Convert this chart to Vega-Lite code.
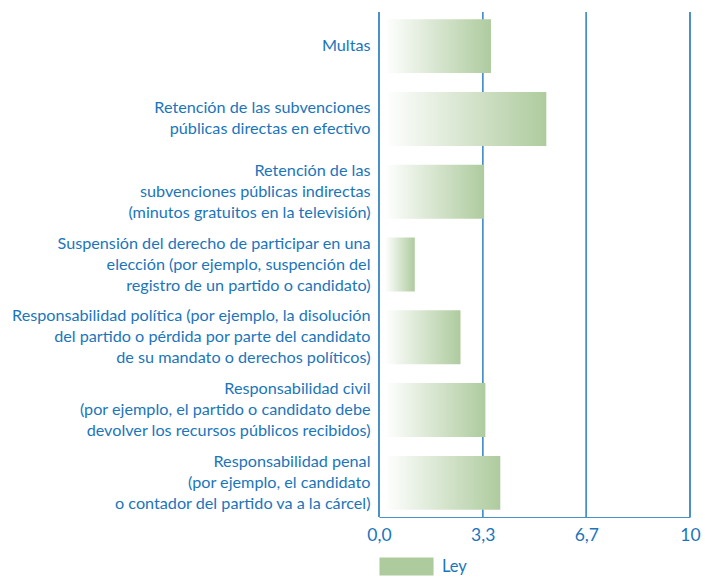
{
  "$schema": "https://vega.github.io/schema/vega-lite/v6.json",
  "width": 311,
  "height": 505,
  "padding": {"left": 11, "right": 14, "top": 11, "bottom": 1},
  "background": "white",
  "config": {"view": {"stroke": null}, "font": "Lato"},
  "data": {"values": [
    {"cat": "Multas", "valor": 3.6},
    {"cat": "Retención de las subvenciones|públicas directas en efectivo", "valor": 5.38},
    {"cat": "Retención de las|subvenciones públicas indirectas|(minutos gratuitos en la televisión)", "valor": 3.38},
    {"cat": "Suspensión del derecho de participar en una|elección (por ejemplo, suspención del|registro de un partido o candidato)", "valor": 1.15},
    {"cat": "Responsabilidad política (por ejemplo, la disolución|del partido o pérdida por parte del candidato|de su mandato o derechos políticos)", "valor": 2.62},
    {"cat": "Responsabilidad civil|(por ejemplo, el partido o candidato debe|devolver los recursos públicos recibidos)", "valor": 3.42},
    {"cat": "Responsabilidad penal|(por ejemplo, el candidato|o contador del partido va a la cárcel)", "valor": 3.9}
  ]},
  "encoding": {
    "y": {
      "field": "cat", "type": "nominal", "sort": null, "title": null,
      "scale": {"paddingInner": 0.26, "paddingOuter": 0.1},
      "axis": {
        "labelExpr": "split(datum.label, '|')",
        "labelColor": "#1b75bb", "labelFontSize": 16.2, "labelLineHeight": 21,
        "labelPadding": 9, "ticks": false, "domain": false, "labelLimit": 400,
        "labelBaseline": "middle", "grid": false,
        "labelOffset": {
          "condition": [
            {"test": "length(split(datum.label, '|')) == 3", "value": -21},
            {"test": "length(split(datum.label, '|')) == 2", "value": -10.5}
          ],
          "value": 0
        }
      }
    }
  },
  "layer": [
    {
      "mark": {"type": "rule", "color": "#4a90c8", "strokeWidth": 1},
      "encoding": {"x": {"datum": 0}, "y": null}
    },
    {
      "mark": {"type": "rule", "color": "#4a90c8", "strokeWidth": 1},
      "encoding": {"x": {"datum": 3.3333}, "y": null}
    },
    {
      "mark": {"type": "rule", "color": "#4a90c8", "strokeWidth": 1},
      "encoding": {"x": {"datum": 6.6667}, "y": null}
    },
    {
      "mark": {"type": "rule", "color": "#4a90c8", "strokeWidth": 1},
      "encoding": {"x": {"datum": 10}, "y": null}
    },
    {
      "mark": {
        "type": "bar",
        "fill": {"gradient": "linear", "x1": 0, "y1": 0, "x2": 1, "y2": 0,
          "stops": [{"offset": 0, "color": "#ffffff"}, {"offset": 1, "color": "#aecb9e"}]}
      },
      "encoding": {
        "x": {
          "field": "valor", "type": "quantitative", "title": null,
          "scale": {"domain": [0, 10], "nice": false},
          "axis": {
            "values": [0, 3.3333, 6.6667, 10],
            "labelExpr": "datum.value == 10 ? '10' : replace(format(datum.value, '.1f'), '.', ',')",
            "labelColor": "#1b75bb", "labelFontSize": 17.5, "labelPadding": 9,
            "ticks": false, "domainColor": "#4a90c8", "domainWidth": 1,
            "grid": false, "labelFlush": false
          }
        },
        "x2": {"datum": 0.2}
      }
    },
    {
      "mark": {"type": "point", "opacity": 0, "filled": true},
      "encoding": {
        "color": {
          "datum": "Ley", "type": "nominal",
          "scale": {"range": ["#aecb9e"]},
          "legend": {
            "title": null, "orient": "bottom", "direction": "horizontal",
            "symbolType": "M-1,-0.5H2V0.5H-1Z", "symbolSize": 1300,
            "symbolOpacity": 1, "symbolFillColor": "#aecb9e", "symbolStrokeWidth": 0,
            "labelColor": "#1b75bb", "labelFontSize": 16.5, "labelOffset": 26,
            "offset": 4, "padding": 0
          }
        }
      }
    }
  ]
}
